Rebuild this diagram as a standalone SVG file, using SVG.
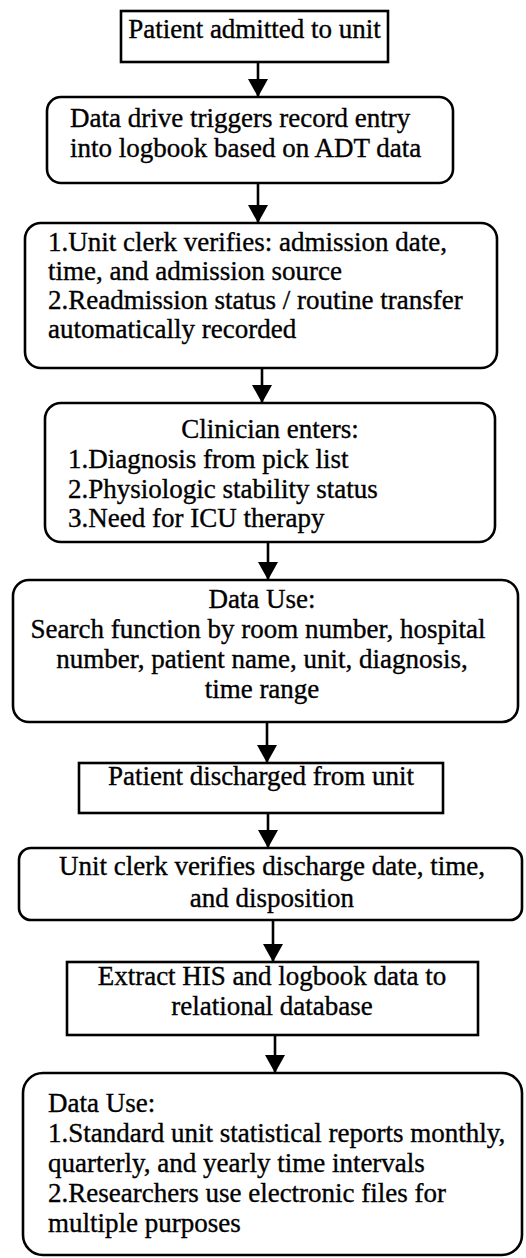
<svg xmlns="http://www.w3.org/2000/svg" width="526" height="1258" viewBox="0 0 526 1258">
<style>
.box{fill:#fff;stroke:#000;stroke-width:2.6}
.t{font-family:"Liberation Serif","Times New Roman",serif;font-size:27px;fill:#000;stroke:#000;stroke-width:0.35}
.c{text-anchor:middle}
.edge{stroke:#000;stroke-width:2.6;fill:none;marker-end:url(#ah)}
</style>
<defs>
<marker id="ah" markerUnits="userSpaceOnUse" markerWidth="20" markerHeight="20" viewBox="0 0 18 20" refX="18" refY="10" orient="auto">
<path d="M0,0 L18,10 L0,20 z" fill="#000"/>
</marker>
</defs>
<rect width="526" height="1258" fill="#fff"/>
<g id="connectors">
<line class="edge" x1="258" y1="62" x2="258" y2="97"/>
<line class="edge" x1="258" y1="183" x2="258" y2="223"/>
<line class="edge" x1="262" y1="368" x2="262" y2="403"/>
<line class="edge" x1="268" y1="542" x2="268" y2="580"/>
<line class="edge" x1="267" y1="722" x2="267" y2="763"/>
<line class="edge" x1="268" y1="813" x2="268" y2="848"/>
<line class="edge" x1="273" y1="920" x2="273" y2="962"/>
<line class="edge" x1="275" y1="1035" x2="275" y2="1073"/>
</g>
<g id="n1">
<rect class="box" x="121" y="11" width="267" height="51"/>
<text class="t c" x="254.5" y="38">Patient admitted to unit</text>
</g>
<g id="n2">
<rect class="box" x="47" y="97" width="406" height="86" rx="14"/>
<text class="t" x="70" y="127">Data drive triggers record entry</text>
<text class="t" x="70" y="157">into logbook based on ADT data</text>
</g>
<g id="n3">
<rect class="box" x="25" y="223" width="472" height="145" rx="16"/>
<text class="t" x="48" y="251">1.Unit clerk verifies: admission date,</text>
<text class="t" x="48" y="280">time, and admission source</text>
<text class="t" x="48" y="309">2.Readmission status / routine transfer</text>
<text class="t" x="48" y="338">automatically recorded</text>
</g>
<g id="n4">
<rect class="box" x="45" y="403" width="450" height="139" rx="16"/>
<text class="t c" x="270" y="438">Clinician enters:</text>
<text class="t" x="68" y="468">1.Diagnosis from pick list</text>
<text class="t" x="68" y="498">2.Physiologic stability status</text>
<text class="t" x="68" y="527">3.Need for ICU therapy</text>
</g>
<g id="n5">
<rect class="box" x="13" y="580" width="505" height="142" rx="16"/>
<text class="t c" x="262" y="608">Data Use:</text>
<text class="t c" x="258" y="638">Search function by room number, hospital</text>
<text class="t c" x="262" y="668">number, patient name, unit, diagnosis,</text>
<text class="t c" x="262" y="698">time range</text>
</g>
<g id="n6">
<rect class="box" x="79" y="763" width="364" height="50"/>
<text class="t c" x="261" y="785">Patient discharged from unit</text>
</g>
<g id="n7">
<rect class="box" x="19" y="848" width="503" height="72" rx="12"/>
<text class="t c" x="272" y="875">Unit clerk verifies discharge date, time,</text>
<text class="t c" x="272" y="907">and disposition</text>
</g>
<g id="n8">
<rect class="box" x="67" y="962" width="411" height="73"/>
<text class="t c" x="272" y="985">Extract HIS and logbook data to</text>
<text class="t c" x="272" y="1015">relational database</text>
</g>
<g id="n9">
<rect class="box" x="23" y="1073" width="499" height="182" rx="20"/>
<text class="t" x="48" y="1112">Data Use:</text>
<text class="t" x="48" y="1142">1.Standard unit statistical reports monthly,</text>
<text class="t" x="48" y="1172">quarterly, and yearly time intervals</text>
<text class="t" x="48" y="1202">2.Researchers use electronic files for</text>
<text class="t" x="48" y="1232">multiple purposes</text>
</g>
</svg>
